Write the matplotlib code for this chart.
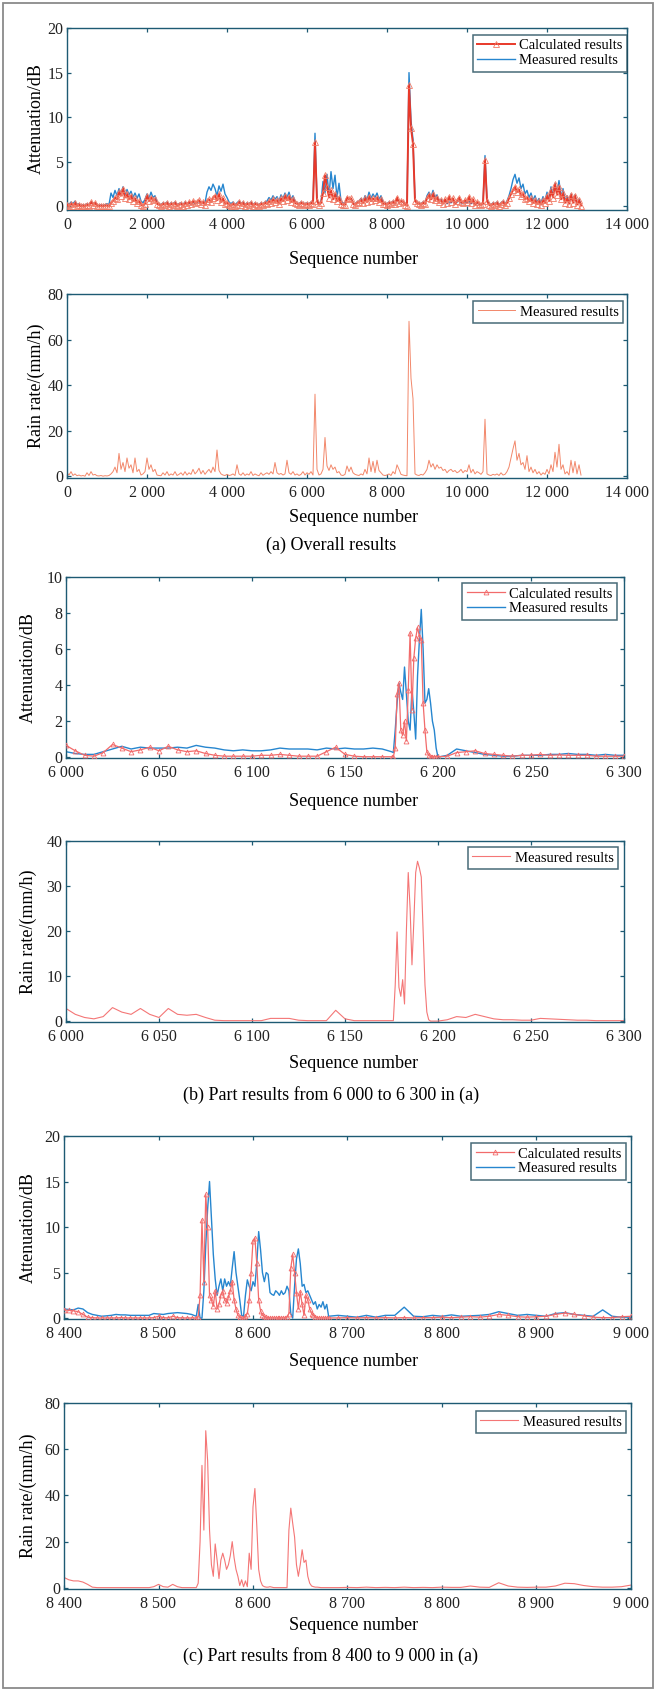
import numpy as np
import matplotlib
matplotlib.use("Agg")
import matplotlib.pyplot as plt
from matplotlib.ticker import FuncFormatter
from matplotlib.patches import Rectangle

plt.rcParams['font.family'] = ['Liberation Serif', 'DejaVu Serif']

# ---------------- (a) overall, sequence 0 .. 12850 step 50 ----------------
seq_all = list(range(0, 12900, 50))

atten_meas_all = [
    0.4, 0.2, 0.5, 0.3, 0.6, 0.2, 0.3, 0.1, 0.2, 0.1, 0.3, 0.2, 0.5, 0.3, 0.4, 0.2, 0.1, 0.2, 0.1, 0.2,
    0.3, 0.2, 1.5, 1.0, 1.8, 1.2, 2.0, 1.4, 2.2, 1.1, 1.9, 1.3, 1.7, 1.0, 1.5, 0.9, 1.4, 0.6, 0.4, 0.8,
    1.4, 0.9, 1.6, 1.0, 1.2, 0.5, 0.3, 0.2, 0.4, 0.3, 0.5, 0.2, 0.4, 0.3, 0.5, 0.2, 0.3, 0.4, 0.2, 0.5,
    0.3, 0.4, 0.2, 0.5, 0.3, 0.4, 0.6, 0.3, 0.5, 0.4, 1.6, 2.2, 1.8, 2.5, 2.0, 1.2, 2.3, 1.7, 2.5, 1.4,
    1.0, 0.5, 0.3, 0.5, 0.2, 0.4, 0.6, 0.3, 0.5, 0.2, 0.4, 0.3, 0.5, 0.2, 0.4, 0.3, 0.2, 0.4, 0.3, 0.5,
    0.6, 1.0, 0.7, 1.2, 0.8, 1.1, 0.6, 1.3, 0.9, 1.5, 1.0, 1.6, 0.8, 1.2, 0.6, 0.4, 0.3, 0.5, 0.4, 0.3,
    0.4, 0.3, 0.5, 0.4, 8.2, 0.8, 0.3, 0.5, 2.8, 1.5, 3.6, 1.2, 3.9, 2.0, 3.5, 1.0, 2.6, 0.6, 0.4, 0.3,
    1.0, 0.8, 0.9, 0.4, 0.3, 0.5, 0.6, 0.9, 0.5, 1.2, 0.7, 1.6, 0.9, 1.4, 1.0, 1.5, 0.8, 1.2, 0.5, 0.4,
    0.3, 0.5, 0.4, 0.6, 0.3, 0.9, 0.4, 0.6, 0.5, 0.3, 0.2, 15.0, 9.6, 7.5, 0.8, 0.5, 0.4, 0.3, 0.5, 0.4,
    1.2, 1.6, 1.0, 1.8, 0.9, 1.3, 0.6, 0.8, 0.4, 0.6, 0.3, 0.5, 0.4, 0.7, 0.3, 0.5, 0.6, 0.4, 0.3, 0.5,
    0.4, 0.6, 0.3, 0.5, 0.2, 0.4, 0.3, 0.2, 0.3, 5.7, 0.8, 0.3, 0.2, 0.4, 0.3, 0.5, 0.2, 0.4, 0.6, 0.3,
    0.6, 1.2, 2.0, 3.0, 3.6, 2.6, 3.2, 2.0, 2.5, 1.4, 1.8, 1.0, 1.5, 0.7, 1.2, 0.5, 0.9, 0.4, 1.1, 0.6,
    1.6, 0.8, 2.2, 1.2, 2.6, 1.5, 2.9, 1.0, 2.0, 0.6, 1.2, 0.4, 1.4, 0.5, 1.3, 0.3, 0.8, 0.2]

atten_calc_all = [
    0.2, 0.0, 0.3, 0.1, 0.4, 0.0, 0.2, 0.0, 0.1, 0.0, 0.2, 0.1, 0.5, 0.2, 0.4, 0.1, 0.0, 0.1, 0.0, 0.1,
    0.1, 0.0, 0.4, 0.6, 1.0, 0.8, 1.6, 1.2, 2.0, 1.0, 1.4, 0.8, 1.2, 0.6, 0.9, 0.4, 0.6, 0.2, 0.1, 0.3,
    1.2, 0.6, 1.0, 0.7, 0.8, 0.3, 0.2, 0.1, 0.3, 0.2, 0.4, 0.1, 0.3, 0.2, 0.4, 0.1, 0.2, 0.3, 0.1, 0.4,
    0.2, 0.5, 0.3, 0.6, 0.4, 0.5, 0.7, 0.3, 0.5, 0.2, 0.6, 0.8, 0.5, 1.0, 1.2, 0.7, 1.4, 0.5, 0.9, 0.3,
    0.4, 0.2, 0.1, 0.3, 0.1, 0.2, 0.5, 0.2, 0.4, 0.1, 0.3, 0.2, 0.4, 0.1, 0.3, 0.2, 0.1, 0.3, 0.2, 0.4,
    0.3, 0.6, 0.4, 0.8, 0.5, 0.7, 0.3, 0.9, 0.6, 1.2, 0.7, 1.1, 0.5, 0.8, 0.4, 0.3, 0.2, 0.4, 0.3, 0.2,
    0.3, 0.2, 0.4, 0.3, 7.2, 0.6, 0.2, 0.4, 1.5, 3.5, 2.2, 1.0, 1.8, 0.8, 1.4, 0.6, 1.0, 0.3, 0.2, 0.2,
    1.0, 0.8, 0.9, 0.3, 0.2, 0.4, 0.5, 0.7, 0.4, 0.9, 0.5, 1.1, 0.6, 0.9, 0.7, 1.0, 0.5, 0.8, 0.3, 0.3,
    0.2, 0.4, 0.3, 0.5, 0.3, 1.0, 0.4, 0.6, 0.5, 0.2, 0.1, 13.6, 8.8, 7.0, 0.6, 0.4, 0.3, 0.2, 0.4, 0.3,
    0.9, 1.3, 0.8, 1.4, 0.7, 1.0, 0.5, 0.7, 0.3, 0.8, 0.4, 1.1, 0.5, 0.9, 0.3, 0.6, 1.0, 0.5, 0.4, 0.7,
    0.5, 1.1, 0.4, 0.8, 0.2, 0.5, 0.3, 0.2, 0.3, 5.2, 0.6, 0.2, 0.1, 0.3, 0.2, 0.4, 0.1, 0.3, 0.5, 0.2,
    0.4, 0.9, 1.4, 1.8, 2.2, 1.6, 1.9, 1.2, 1.4, 0.8, 1.0, 0.6, 0.9, 0.4, 0.7, 0.3, 0.6, 0.2, 0.7, 0.4,
    1.2, 0.6, 1.8, 1.0, 2.5, 1.3, 2.2, 0.8, 1.5, 0.4, 0.9, 0.3, 1.3, 0.4, 1.2, 0.2, 0.7, 0.1]

rain_all = [
    1.5, 0.5, 2.0, 0.3, 1.0, 0.2, 0.5, 0.1, 0.3, 0.0, 1.5, 0.3, 2.0, 0.5, 0.8, 0.2, 0.1, 0.3, 0.0, 0.2,
    0.1, 0.3, 1.0, 2.0, 4.0, 1.5, 10.0, 3.0, 6.0, 2.0, 8.0, 3.5, 5.0, 1.5, 8.0, 2.0, 3.0, 0.5, 1.0, 2.0,
    8.0, 3.0, 5.0, 2.0, 3.0, 0.5, 0.3, 0.2, 1.5, 0.5, 2.0, 0.3, 1.0, 0.5, 2.0, 0.3, 0.8, 1.5, 0.4, 2.0,
    0.5, 1.5, 0.8, 3.0, 1.0, 2.0, 3.5, 1.0, 2.5, 0.8, 2.0, 3.0, 1.5, 4.0, 2.0, 11.5, 2.5, 1.0, 0.5, 0.3,
    0.8, 0.3, 0.5, 1.0, 0.3, 5.0, 1.0, 0.4, 1.5, 0.3, 1.0, 0.5, 2.0, 0.3, 1.0, 0.5, 0.2, 1.5, 0.4, 1.0,
    1.5, 0.8, 2.0, 1.0, 6.0, 1.5, 0.8, 1.2, 0.5, 1.0, 7.0, 1.5, 0.8, 2.0, 0.5, 1.0, 0.3, 0.8, 2.0, 0.5,
    1.5, 0.8, 2.0, 0.5, 36.0, 3.0, 0.5, 1.0, 3.0, 17.0, 4.5, 2.5, 5.0, 3.0, 4.0, 1.5, 2.0, 0.5, 0.3, 0.8,
    4.5, 2.0, 4.0, 1.5, 0.8, 0.5, 0.3, 1.0, 0.5, 3.0, 1.0, 8.0, 2.0, 6.5, 1.5, 7.0, 2.5, 1.5, 0.5, 0.3,
    0.5, 1.0, 0.3, 2.0, 1.0, 5.0, 3.0, 0.8, 0.5, 0.3, 0.2, 68.0, 43.0, 34.0, 1.0, 0.5, 0.3, 0.8, 0.5, 1.5,
    3.0, 7.0, 4.0, 5.5, 3.0, 5.0, 3.5, 4.0, 2.5, 3.0, 1.5, 2.5, 3.0, 2.0, 2.5, 1.5, 2.0, 3.0, 1.5, 2.5,
    2.0, 5.0, 1.5, 3.0, 1.0, 2.0, 1.5, 0.8, 2.0, 25.0, 1.0, 0.5, 0.3, 0.8, 0.5, 1.0, 0.3, 1.5, 0.5, 0.8,
    2.0, 4.0, 8.0, 12.0, 15.5, 7.0, 10.0, 5.0, 6.0, 3.0, 9.0, 2.0, 4.0, 1.5, 3.0, 1.0, 2.0, 0.5, 1.5, 0.8,
    3.0, 1.0, 5.0, 2.0, 10.5, 4.0, 14.0, 3.0, 5.0, 1.0, 2.0, 0.5, 7.0, 1.5, 6.5, 1.0, 5.0, 0.5]

# ---------------- (b) 6000 .. 6300 ----------------
seq_b = list(range(6000, 6176, 5)) + list(range(6176, 6200)) + list(range(6200, 6301, 5))

atten_calc_b = [
    0.65, 0.35, 0.1, 0.05, 0.25, 0.7, 0.5, 0.3, 0.4, 0.55, 0.35, 0.6, 0.4, 0.3, 0.35, 0.2, 0.1, 0.05,
    0.05, 0.05, 0.05, 0.1, 0.1, 0.15, 0.1, 0.05, 0.05, 0.05, 0.3, 0.55, 0.15, 0.05, 0.02, 0.02, 0.02, 0.02,
    0.02, 0.5, 3.5, 4.1, 1.5, 1.2, 2.0, 0.9, 3.7, 6.9, 2.6, 5.5, 6.6, 7.2, 6.7, 6.5, 3.0, 1.5, 0.3, 0.1,
    0.02, 0.02, 0.02, 0.02,
    0.02, 0.05, 0.25, 0.3, 0.35, 0.2, 0.15, 0.1, 0.05, 0.1, 0.1, 0.15, 0.1, 0.12, 0.1, 0.1, 0.1, 0.05,
    0.05, 0.05, 0.05]

atten_meas_b = [
    0.3, 0.2, 0.15, 0.15, 0.3, 0.45, 0.6, 0.45, 0.55, 0.5, 0.5, 0.5, 0.55, 0.5, 0.65, 0.55, 0.5, 0.4,
    0.35, 0.4, 0.35, 0.35, 0.4, 0.5, 0.45, 0.45, 0.45, 0.4, 0.5, 0.45, 0.5, 0.45, 0.45, 0.5, 0.45, 0.3,
    0.25, 1.5, 3.0, 4.1, 3.6, 3.2, 5.0, 3.5, 2.0, 1.5, 3.8, 2.5, 1.0, 4.5, 6.5, 8.2, 6.0, 3.0, 3.2, 3.8,
    3.0, 2.0, 1.5, 0.5,
    0.0, 0.1, 0.45, 0.35, 0.25, 0.15, 0.1, 0.05, 0.05, 0.1, 0.1, 0.1, 0.15, 0.15, 0.2, 0.15, 0.15, 0.1,
    0.15, 0.1, 0.1]

rain_b = [
    2.8, 1.5, 0.8, 0.5, 1.0, 3.0, 2.0, 1.5, 2.8, 1.5, 0.8, 2.8, 1.5, 1.3, 1.5, 0.8, 0.2, 0.1,
    0.1, 0.1, 0.1, 0.1, 0.6, 0.6, 0.6, 0.2, 0.1, 0.1, 0.1, 2.4, 0.5, 0.1, 0.1, 0.1, 0.1, 0.1,
    0.1, 8.0, 19.8, 7.5, 5.5, 9.2, 3.8, 20.0, 33.0, 25.0, 12.5, 22.0, 33.0, 35.5, 34.0, 32.0, 20.0, 8.0,
    2.0, 0.3, 0.0, 0.0, 0.0, 0.0,
    0.0, 0.3, 1.0, 0.8, 1.5, 1.0, 0.5, 0.3, 0.3, 0.2, 0.2, 0.6, 0.5, 0.4, 0.3, 0.2, 0.2, 0.1,
    0.1, 0.1, 0.1]

# ---------------- (c) 8400 .. 9000 ----------------
seq_c = list(range(8400, 8541, 5)) + list(range(8542, 8681, 2)) + list(range(8690, 9001, 10))

atten_calc_c = [
    # 8400 .. 8540 step 5
    0.9, 0.85, 0.8, 0.7, 0.4, 0.1, 0.05, 0.02, 0.02, 0.02, 0.02, 0.02, 0.05, 0.02, 0.02,
    0.02, 0.02, 0.02, 0.02, 0.05, 0.2, 0.05, 0.02, 0.2, 0.05, 0.02, 0.02, 0.02, 0.02,
    # 8542 .. 8680 step 2
    0.1, 2.5, 10.8, 4.0, 13.6, 10.0, 2.5, 2.0, 1.3, 3.0,
    1.0, 1.5, 2.5, 3.0, 2.0, 1.7, 2.3, 3.0, 4.0, 2.0,
    1.0, 0.3, 0.1, 0.0, 0.0, 0.2, 0.5, 2.0, 5.0, 8.5,
    8.8, 6.0, 2.0, 0.8, 0.3, 0.2, 0.1, 0.05, 0.02, 0.02,
    0.02, 0.02, 0.02, 0.02, 0.02, 0.02, 0.02, 0.1, 0.5, 5.5,
    7.0, 5.0, 2.8, 1.0, 2.9, 1.5, 0.3, 2.5, 2.0, 1.0,
    0.5, 0.3, 0.1, 0.05, 0.02, 0.02, 0.02, 0.02, 0.02, 0.02,
    # 8690 .. 9000 step 10
    0.02, 0.05, 0.02, 0.05, 0.02, 0.05, 0.02, 0.05, 0.02, 0.05, 0.05, 0.1, 0.05, 0.1, 0.15, 0.1,
    0.2, 0.4, 0.3, 0.15, 0.1, 0.15, 0.2, 0.4, 0.55, 0.4, 0.25, 0.1, 0.05, 0.05, 0.15, 0.2]

atten_meas_c = [
    # 8400 .. 8540 step 5
    1.0, 0.95, 0.9, 1.1, 1.0, 0.6, 0.4, 0.3, 0.2, 0.25, 0.3, 0.4, 0.35, 0.35, 0.3,
    0.3, 0.3, 0.3, 0.3, 0.5, 0.45, 0.4, 0.5, 0.55, 0.6, 0.55, 0.5, 0.4, 0.2,
    # 8542 .. 8680 step 2
    1.5, 0.0, 0.0, 3.0, 8.0, 12.0, 15.0, 11.0, 7.0, 4.3,
    2.5, 3.5, 4.3, 3.0, 4.3, 3.5, 4.0, 3.5, 5.5, 7.3,
    5.0, 3.5, 2.0, 0.3, 0.2, 2.5, 4.2, 3.5, 3.0, 4.0,
    3.5, 6.0, 9.5, 7.5, 5.0, 4.0, 5.0, 4.8, 2.8, 2.6,
    2.5, 3.0, 2.8, 2.5, 3.0, 2.6, 2.8, 3.5, 3.0, 0.5,
    0.0, 3.5, 6.5, 7.6, 6.0, 3.5, 3.7, 2.8, 3.0, 2.5,
    2.0, 1.5, 1.8, 1.0, 1.5, 1.2, 1.8, 1.0, 1.5, 0.2,
    # 8690 .. 9000 step 10
    0.3, 0.2, 0.1, 0.3, 0.1, 0.3, 0.3, 1.2, 0.2, 0.15, 0.3, 0.2, 0.35, 0.2, 0.25, 0.3,
    0.4, 0.7, 0.5, 0.3, 0.4, 0.3, 0.2, 0.5, 0.6, 0.4, 0.3, 0.2, 0.9, 0.2, 0.1, 0.1]

rain_c = [
    # 8400 .. 8540 step 5
    4.5, 3.5, 3.0, 3.0, 2.5, 1.5, 0.3, 0.1, 0.1, 0.1, 0.1, 0.1, 0.1, 0.1, 0.1,
    0.1, 0.1, 0.1, 0.1, 0.5, 1.5, 0.5, 0.3, 1.5, 0.5, 0.1, 0.1, 0.1, 0.1,
    # 8542 .. 8680 step 2
    2.0, 20.0, 53.0, 25.0, 68.0, 55.0, 25.0, 10.0, 5.0, 19.0,
    12.0, 4.0, 12.0, 15.0, 12.0, 8.0, 10.0, 14.0, 20.0, 13.0,
    8.0, 5.0, 1.0, 3.5, 0.5, 3.0, 0.5, 15.0, 8.0, 35.0,
    43.0, 27.0, 8.0, 3.0, 1.0, 0.5, 0.3, 0.3, 0.5, 0.3,
    0.1, 0.1, 0.1, 0.1, 0.1, 0.1, 0.1, 0.1, 25.0, 34.5,
    28.0, 22.0, 10.0, 5.0, 10.0, 16.5, 11.0, 12.0, 5.0, 2.0,
    0.8, 0.5, 0.3, 0.3, 0.2, 0.1, 0.1, 0.1, 0.1, 0.1,
    # 8690 .. 9000 step 10
    0.1, 0.2, 0.1, 0.3, 0.1, 0.2, 0.1, 0.3, 0.1, 0.2, 0.1, 0.3, 0.2, 0.2, 0.8, 0.3,
    0.2, 2.2, 0.8, 0.3, 0.2, 0.3, 0.3, 0.8, 2.0, 1.8, 1.0, 0.5, 0.3, 0.3, 0.5, 1.2]

# ---------------- styling ----------------
W, H = 656, 1691
spine_c = "#1d5a73"
blue = "#2686cf"
red_dense = "#e8392a"
red_light = "#f26b6b"
rain_a_c = "#f2876a"
rain_c_c = "#f47676"

fig = plt.figure(figsize=(W / 100, H / 100), dpi=100)
fig.patch.set_facecolor("white")
fig.add_artist(Rectangle((3 / W, 3 / H), (W - 6) / W, (H - 6) / H, transform=fig.transFigure,
                         fill=False, edgecolor="#8a8a8a", lw=1.3))


def make_ax(left, right, top, bottom, ylab, ylab_x):
    ax = fig.add_axes([left / W, 1 - bottom / H, (right - left) / W, (bottom - top) / H])
    for s in ax.spines.values():
        s.set_color(spine_c)
        s.set_linewidth(1.0)
    ax.tick_params(direction="in", length=3, width=0.9, color=spine_c, labelcolor="#222222",
                   labelsize=11.5, top=True, right=True)
    ax.tick_params(axis="x", pad=5)
    ax.tick_params(axis="y", pad=2.5)
    ax.xaxis.set_major_formatter(FuncFormatter(lambda v, p: f"{int(round(v)):,}".replace(",", " ")))
    fig.text(ylab_x / W, 1 - (top + bottom) / 2 / H, ylab, rotation=90, ha="center", va="center",
             fontsize=13)
    return ax


def legend(ax, handles, labels, bx, by):
    lg = ax.legend(handles, labels, loc="upper right", bbox_to_anchor=(bx, by), borderaxespad=0,
                   fontsize=10.5, frameon=True, fancybox=False, handlelength=2.6, handletextpad=0.3,
                   borderpad=0.3, labelspacing=0.1)
    lg.get_frame().set_edgecolor("#1b4656")
    lg.get_frame().set_linewidth(1.1)
    return lg


def xlabel(y):
    fig.text(354 / W, 1 - y / H, "Sequence number", ha="center", va="center", fontsize=13)


def caption(y, s):
    fig.text(331 / W, 1 - y / H, s, ha="center", va="center", fontsize=13)


# (a) attenuation
ax1 = make_ax(67, 627, 28, 210, "Attenuation/dB", 36)
m1, = ax1.plot(seq_all, atten_meas_all, color=blue, lw=1.0, zorder=2)
c1, = ax1.plot(seq_all, atten_calc_all, color=red_dense, lw=1.4, marker="^", ms=3.8,
               mfc="none", mec="#f07a66", mew=0.6, zorder=3)
ax1.set_xlim(0, 14000)
ax1.set_ylim(-0.4, 20)
ax1.set_xticks(range(0, 14001, 2000))
ax1.set_yticks([0, 5, 10, 15, 20])
legend(ax1, [c1, m1], ["Calculated results", "Measured results"], 1.0, 0.962)
xlabel(259)

# (a) rain rate
ax2 = make_ax(67, 627, 294, 478, "Rain rate/(mm/h)", 36)
r2, = ax2.plot(seq_all, rain_all, color=rain_a_c, lw=0.7)
ax2.set_xlim(0, 14000)
ax2.set_ylim(-0.8, 80)
ax2.set_xticks(range(0, 14001, 2000))
ax2.set_yticks([0, 20, 40, 60, 80])
legend(ax2, [r2], ["Measured results"], 0.993, 0.962)
xlabel(517)
caption(545, "(a) Overall results")

# (b) attenuation
ax3 = make_ax(66, 624, 577, 758, "Attenuation/dB", 28)
m3, = ax3.plot(seq_b, atten_meas_b, color=blue, lw=1.0, zorder=2)
c3, = ax3.plot(seq_b, atten_calc_b, color=red_light, lw=0.9, marker="^", ms=3.5,
               mfc="none", mec=red_light, mew=0.6, zorder=3)
ax3.set_xlim(6000, 6300)
ax3.set_ylim(-0.05, 10)
ax3.set_xticks(range(6000, 6301, 50))
ax3.set_yticks(range(0, 11, 2))
legend(ax3, [c3, m3], ["Calculated results", "Measured results"], 0.987, 0.967)
xlabel(802)

# (b) rain rate
ax4 = make_ax(66, 624, 841, 1022, "Rain rate/(mm/h)", 28)
r4, = ax4.plot(seq_b, rain_b, color=rain_c_c, lw=0.8)
ax4.set_xlim(6000, 6300)
ax4.set_ylim(-0.2, 40)
ax4.set_xticks(range(6000, 6301, 50))
ax4.set_yticks(range(0, 41, 10))
legend(ax4, [r4], ["Measured results"], 0.989, 0.967)
xlabel(1064)
caption(1095, "(b) Part results from 6 000 to 6 300 in (a)")

# (c) attenuation
ax5 = make_ax(64, 631, 1136, 1319, "Attenuation/dB", 28)
m5, = ax5.plot(seq_c, atten_meas_c, color=blue, lw=1.0, zorder=2)
c5, = ax5.plot(seq_c, atten_calc_c, color=red_light, lw=0.9, marker="^", ms=3.5,
               mfc="none", mec=red_light, mew=0.6, zorder=3)
ax5.set_xlim(8400, 9000)
ax5.set_ylim(-0.1, 20)
ax5.set_xticks(range(8400, 9001, 100))
ax5.set_yticks([0, 5, 10, 15, 20])
legend(ax5, [c5, m5], ["Calculated results", "Measured results"], 0.991, 0.962)
xlabel(1362)

# (c) rain rate
ax6 = make_ax(64, 631, 1403, 1589, "Rain rate/(mm/h)", 28)
r6, = ax6.plot(seq_c, rain_c, color=rain_c_c, lw=0.8)
ax6.set_xlim(8400, 9000)
ax6.set_ylim(-0.5, 80)
ax6.set_xticks(range(8400, 9001, 100))
ax6.set_yticks([0, 20, 40, 60, 80])
legend(ax6, [r6], ["Measured results"], 0.991, 0.957)
xlabel(1625)
caption(1656, "(c) Part results from 8 400 to 9 000 in (a)")

fig.savefig("out.png", dpi=100)
